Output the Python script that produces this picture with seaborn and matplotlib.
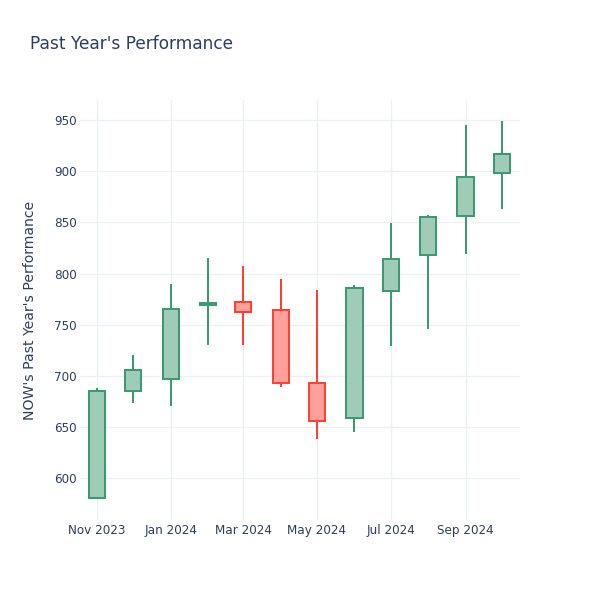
import numpy as np
import pandas as pd
import matplotlib
matplotlib.use("Agg")
import matplotlib.pyplot as plt
import matplotlib.dates as mdates
import seaborn as sns

# Monthly candles
months = ["2023-11-01", "2023-12-01", "2024-01-01", "2024-02-01", "2024-03-01", "2024-04-01",
          "2024-05-01", "2024-06-01", "2024-07-01", "2024-08-01", "2024-09-01", "2024-10-01"]
open_ = [580.5, 685, 697, 769.5, 772, 764, 693, 659, 783, 818, 856, 898]
high = [688, 720, 790, 815, 807, 795, 784, 789, 849, 857, 945, 949]
low = [580.5, 674, 671, 730, 730, 689, 638, 645, 729, 746, 819, 863]
close = [685, 706, 765, 771, 762, 693, 656, 786, 814, 855, 894, 917]

df = pd.DataFrame({"date": pd.to_datetime(months), "open": open_, "high": high,
                   "low": low, "close": close})
df["x"] = mdates.date2num(df["date"])
df["up"] = df["close"] >= df["open"]

sns.set_theme(style="white")
plt.rcParams["font.family"] = ["DejaVu Sans"]

text_col = "#2a3f5f"
grid_col = "#EBF0F8"
inc_line, inc_fill = "#3D9970", "#9ECCB7"
dec_line, dec_fill = "#FF4136", "#FFA09B"

fig = plt.figure(figsize=(6, 6), dpi=100)
ax = fig.add_axes([80 / 600, 80 / 600, 440 / 600, 420 / 600])

lw = 1.44
for _, r in df.iterrows():
    lc = inc_line if r["up"] else dec_line
    fc = inc_fill if r["up"] else dec_fill
    ax.vlines(r["x"], r["low"], r["high"], color=lc, linewidth=lw, zorder=2)
    lo, hi = min(r["open"], r["close"]), max(r["open"], r["close"])
    ax.bar(r["x"], hi - lo, bottom=lo, width=13.5, color=fc, edgecolor=lc,
           linewidth=lw, zorder=3)

ax.set_xlim(mdates.date2num(pd.Timestamp("2023-10-18")), mdates.date2num(pd.Timestamp("2024-10-16")))
ax.set_ylim(559.3, 969.5)
ax.set_yticks(np.arange(600, 951, 50))
ax.xaxis.set_major_locator(mdates.MonthLocator(bymonth=[1, 3, 5, 7, 9, 11]))
ax.xaxis.set_major_formatter(mdates.DateFormatter("%b %Y"))

ax.grid(True, color=grid_col, linewidth=1)
ax.set_axisbelow(True)
sns.despine(ax=ax, left=True, bottom=True)
ax.tick_params(axis="both", length=0, labelsize=8.64, labelcolor=text_col)
ax.tick_params(axis="y", pad=2.5)
ax.tick_params(axis="x", pad=3)

ax.set_ylabel("NOW's Past Year's Performance", fontsize=10.08, color=text_col, labelpad=12)
fig.text(30 / 600, 1 - 44 / 600, "Past Year's Performance", fontsize=12.24, color=text_col,
         ha="left", va="center")

fig.savefig("out.png", dpi=100, facecolor="white")
